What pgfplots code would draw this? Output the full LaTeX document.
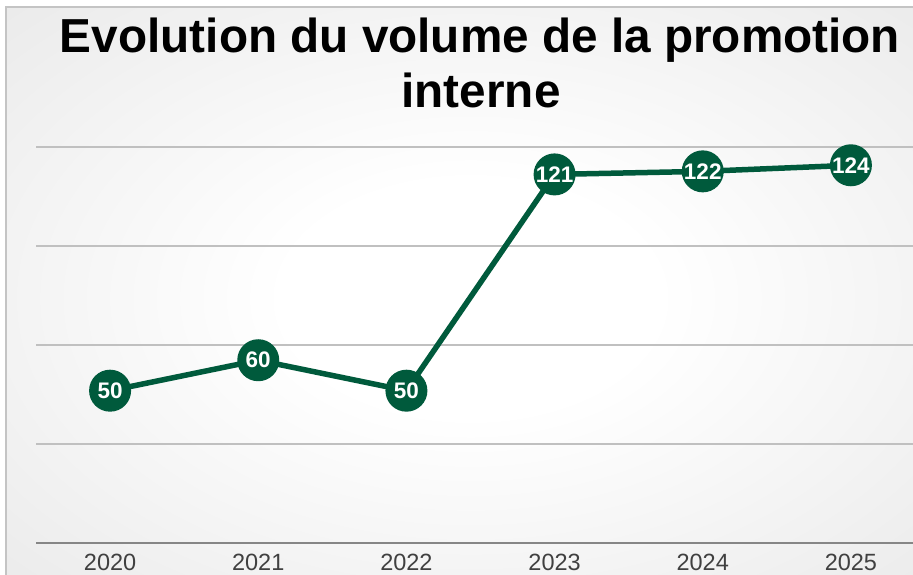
\documentclass[border=0pt]{standalone}
\usepackage{fontspec}
\setmainfont{Liberation Sans}
\usepackage{pgfplots}
\pgfplotsset{compat=1.18}
\definecolor{lineg}{HTML}{005A3C}
\definecolor{gridc}{HTML}{C0C0C0}
\definecolor{axc}{HTML}{868686}
\definecolor{tickc}{HTML}{404040}
\definecolor{bgA}{gray}{0.875}
\definecolor{bgB}{gray}{0.815}
\definecolor{frc}{HTML}{C4C4C4}
\pgfdeclareradialshading{bgshade}{\pgfpoint{0bp}{0bp}}{color(0bp)=(white); color(10bp)=(white); color(50bp)=(bgA); color(71bp)=(bgB)}
\begin{document}
\begin{tikzpicture}
\clip (-36pt,-32pt) rectangle (877pt,543pt);
\fill[white] (-36pt,-32pt) rectangle (877pt,543pt);
\shade[shading=bgshade] (-30pt,-47pt) rectangle (899pt,536pt);
\draw[frc, line width=2pt] (-30pt,-40pt) -- (-30pt,536pt) -- (900pt,536pt);
\node[anchor=base, font=\fontsize{47.7}{55}\selectfont\bfseries] at (444pt,490pt) {Evolution du volume de la promotion};
\node[anchor=base, font=\fontsize{47.7}{55}\selectfont\bfseries] at (445pt,435pt) {interne};
\begin{axis}[
  at={(0pt,0pt)}, anchor=south west,
  scale only axis, width=889pt, height=396pt,
  xmin=-0.5, xmax=5.5, ymin=0, ymax=130,
  clip=false,
  /pgf/number format/assume math mode=true,
  axis x line=bottom,
  axis y line=left,
  x axis line style={-, draw=axc, line width=2pt},
  y axis line style={draw=none},
  xtick={0,1,2,3,4,5},
  xticklabels={2020,2021,2022,2023,2024,2025},
  major tick length=0pt,
  xticklabel style={anchor=base, yshift=-28pt, text=tickc, font=\fontsize{23.5}{27}\selectfont},
  ytick={0,32.5,65,97.5,130},
  yticklabels={},
  ymajorgrids,
  grid style={gridc, line width=2pt},
]
\addplot[lineg, line width=5.5pt, line join=round,
  nodes near coords,
  every node near coord/.append style={anchor=center, circle, fill=lineg, text=white, inner sep=0pt, minimum size=42pt, font=\fontsize{22.5}{24}\selectfont\bfseries},
] coordinates {(0,50) (1,60) (2,50) (3,121) (4,122) (5,124)};
\end{axis}
\end{tikzpicture}
\end{document}
